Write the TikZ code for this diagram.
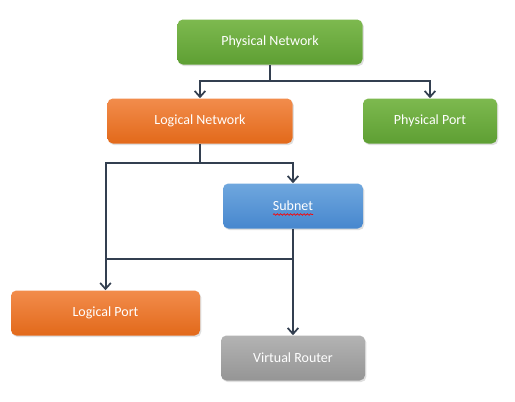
\documentclass[tikz,border=0pt]{standalone}
\usepackage{fontspec}
\setmainfont{Carlito}
\usepackage{xcolor}
\usepackage{tikz}
\usetikzlibrary{arrows.meta}
\usetikzlibrary{shadows}
\usetikzlibrary{decorations.pathmorphing}

\definecolor{greentop}{HTML}{7DB94F}
\definecolor{greenbot}{HTML}{5E9F33}
\definecolor{orangetop}{HTML}{F28C4C}
\definecolor{orangebot}{HTML}{E2691A}
\definecolor{bluetop}{HTML}{6FA7DE}
\definecolor{bluebot}{HTML}{4787CE}
\definecolor{greytop}{HTML}{B3B3B3}
\definecolor{greybot}{HTML}{959595}
\definecolor{linkcol}{HTML}{333F50}

\tikzset{
    box/.style = {rounded corners=4pt, minimum height=33.75pt,
        text=white, font=\fontsize{10.5}{12}\selectfont,
        drop shadow={opacity=0.25, shadow xshift=1pt, shadow yshift=-1.2pt}},
    greenbox/.style = {box, top color=greentop, bottom color=greenbot},
    orangebox/.style = {box, top color=orangetop, bottom color=orangebot},
    bluebox/.style = {box, top color=bluetop, bottom color=bluebot},
    greybox/.style = {box, top color=greytop, bottom color=greybot},
    link/.style = {draw=linkcol, line width=1.5pt},
    tolink/.style = {link, -{Straight Barb[length=4.5pt, width=8pt, line width=1.3pt]}}
}

\begin{document}
\begin{tikzpicture}[x=0.75pt, y=-0.75pt]
        \useasboundingbox (0, 0) rectangle (515, 401);

        % boxes
        \node[greenbox, minimum width=138.75pt] (pnet) at (270, 42) {Physical Network};
        \node[orangebox, minimum width=138.75pt] (lnet) at (200, 121) {Logical Network};
        \node[greenbox, minimum width=100.5pt] (pport) at (430, 121) {Physical Port};
        \node[bluebox, minimum width=105pt] (subnet) at (293, 206) {Subnet};
        \node[orangebox, minimum width=141.75pt] (lport) at (105.5, 313) {Logical Port};
        \node[greybox, minimum width=108pt] (vrouter) at (293, 358) {Virtual Router};

        % spell check squiggle
        \draw[red, line width=0.5pt, decorate,
            decoration={snake, amplitude=0.6pt, segment length=2.5pt}]
            (273, 214.5) -- (313, 214.5);

        % junctions
        \coordinate (pjoin) at (270, 81);
        \coordinate (ljoin) at (200, 163);
        \coordinate (sjoin) at (293, 259);

        \draw[link] (pnet.south) -- (pjoin);
        \draw[tolink] (pjoin) -| (lnet.north);
        \draw[tolink] (pjoin) -| (pport.north);

        \draw[link] (lnet.south) -- (ljoin);
        \draw[tolink] (ljoin) -| (subnet.north);
        \draw[tolink] (ljoin) -| (lport.north);

        \draw[tolink] (subnet.south) -- (sjoin) -- (vrouter.north);
        \draw[link] (sjoin) -- (sjoin -| lport.north);
\end{tikzpicture}
\end{document}
